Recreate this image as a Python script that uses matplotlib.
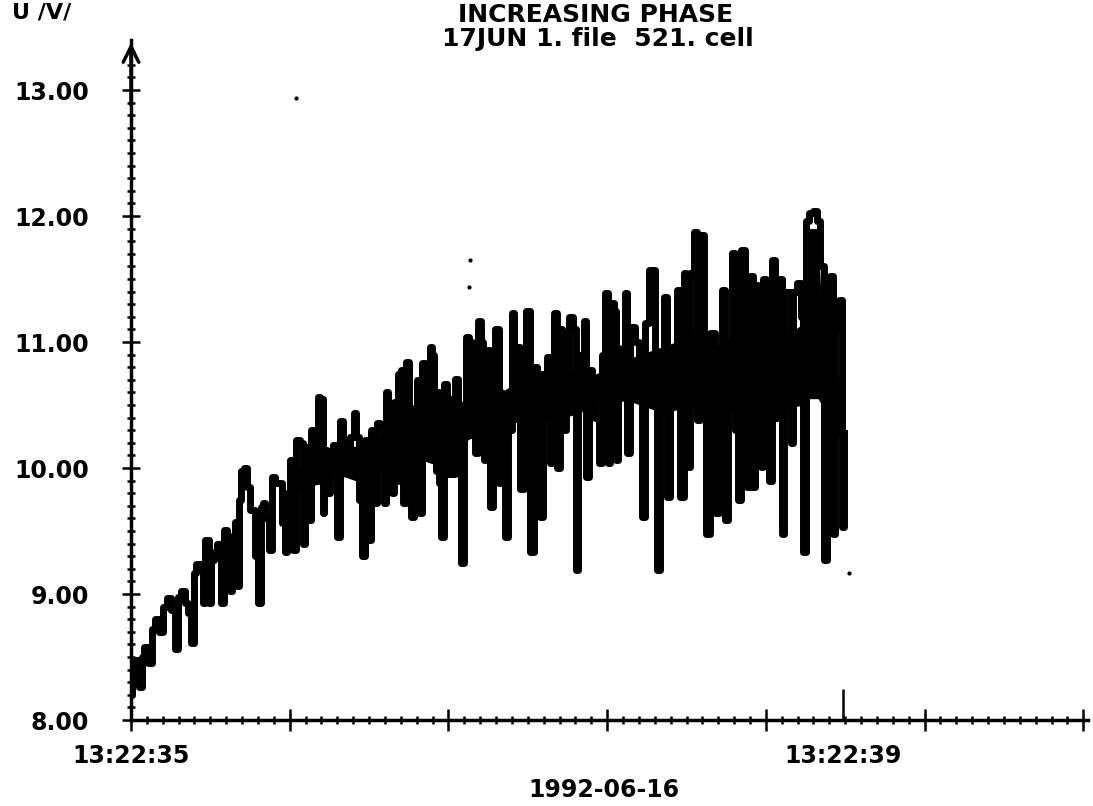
#Cell voltage, increasing phase
#17JUN 1. file 521, 1992-06-16

import numpy as np
import matplotlib
matplotlib.use('Agg')
import matplotlib.pyplot as plt
from matplotlib.ticker import MultipleLocator, FixedLocator, NullFormatter

#Time after 13:22:35 (s) and voltage (V)
t = [0.000, 0.011, 0.022, 0.034, 0.051, 0.067, 0.084, 0.107, 0.124, 0.146,
     0.163, 0.191, 0.219, 0.236, 0.258, 0.275, 0.292, 0.315, 0.331, 0.348,
     0.360, 0.371, 0.399, 0.410, 0.427, 0.444, 0.455, 0.472, 0.489, 0.517,
     0.528, 0.545, 0.562, 0.573, 0.590, 0.601, 0.612, 0.629, 0.646, 0.657,
     0.685, 0.708, 0.719, 0.736, 0.747, 0.764, 0.781, 0.798, 0.820,
     0.837, 0.854, 0.876, 0.882, 0.904, 0.921, 0.938, 0.961, 0.966, 0.989,
     1.006, 1.017, 1.034, 1.045, 1.056, 1.073, 1.079, 1.090, 1.107, 1.129,
     1.146, 1.163, 1.180, 1.202, 1.219, 1.242, 1.258, 1.275, 1.287, 1.303,
     1.326, 1.337, 1.354, 1.371, 1.388, 1.410, 1.427, 1.438, 1.455, 1.472,
     1.483, 1.494, 1.506, 1.522, 1.534, 1.551, 1.567, 1.579, 1.596, 1.612,
     1.624, 1.640, 1.663, 1.669, 1.685, 1.697, 1.708, 1.719, 1.725,
     1.736, 1.747, 1.764, 1.781, 1.798, 1.809, 1.831, 1.843, 1.860, 1.876,
     1.888, 1.905, 1.921, 1.944, 1.955, 1.972, 1.978, 1.989, 2.006, 2.028,
     2.039, 2.056, 2.073, 2.090, 2.112, 2.129, 2.146, 2.157, 2.174, 2.197,
     2.213, 2.230, 2.253, 2.270, 2.287, 2.303, 2.326, 2.343, 2.365, 2.382,
     2.399, 2.416, 2.427, 2.438, 2.449, 2.472, 2.489, 2.506, 2.517,
     2.534, 2.551, 2.562, 2.579, 2.596, 2.618, 2.635, 2.652, 2.674, 2.685,
     2.702, 2.719, 2.730, 2.747, 2.764, 2.781, 2.792, 2.815, 2.843, 2.860,
     2.876, 2.899, 2.916, 2.933, 2.949, 2.961, 2.983, 3.000, 3.017, 3.039,
     3.056, 3.073, 3.096, 3.112, 3.129, 3.152, 3.169, 3.185, 3.208, 3.225,
     3.236,
     3.270, 3.292, 3.309, 3.326, 3.343, 3.365, 3.382, 3.404, 3.421, 3.438,
     3.455, 3.466, 3.489, 3.500, 3.511, 3.528, 3.545, 3.556, 3.573, 3.596,
     3.607, 3.629, 3.646, 3.663, 3.674, 3.702, 3.713, 3.730, 3.753, 3.770,
     3.781, 3.798, 3.815, 3.843, 3.860, 3.882, 3.899, 3.916, 3.938, 3.944,
     3.966, 3.983, 4.000, 4.006]

u = [8.20, 8.45, 8.30, 8.48, 8.26, 8.50, 8.58, 8.45, 8.72, 8.80,
     8.70, 8.90, 8.97, 8.87, 8.56, 8.98, 9.02, 8.93, 8.85, 8.61,
     9.17, 9.24, 9.24, 8.93, 9.43, 8.93, 9.27, 9.33, 9.40, 8.93,
     9.51, 9.46, 9.02, 9.42, 9.57, 9.06, 9.75, 9.98, 10.00, 9.85,
     9.67, 9.30, 8.93, 9.69, 9.72, 9.60, 9.35, 9.93, 9.88,
     9.88, 9.56, 9.33, 9.80, 10.06, 9.35, 10.22, 10.20, 9.40, 10.17,
     9.59, 10.30, 10.28, 9.90, 10.56, 10.55, 9.64, 10.14, 9.80, 10.00,
     10.18, 9.45, 10.37, 10.20, 9.96, 10.25, 10.44, 10.25, 9.75, 9.30,
     10.22, 9.43, 10.30, 9.72, 10.36, 10.35, 9.72, 10.60, 10.50, 9.80,
     10.52, 9.90, 10.75, 10.78, 9.72, 10.84, 10.20, 9.61, 10.40, 10.70,
     9.64, 10.83, 10.82, 10.25, 10.96, 10.90, 10.30, 9.98, 10.60,
     9.88, 9.45, 10.67, 9.95, 10.55, 9.95, 10.71, 10.25, 9.25, 10.25,
     11.04, 11.00, 10.40, 10.12, 11.17, 11.00, 10.60, 10.06, 10.94, 9.69,
     10.80, 11.10, 9.88, 10.40, 9.45, 10.30, 11.23, 10.70, 10.96, 9.83,
     10.80, 11.25, 9.33, 10.80, 10.75, 9.61, 10.75, 10.88, 10.04, 11.23,
     10.00, 11.10, 11.05, 10.30, 10.65, 11.20, 11.10, 9.19, 10.90,
     10.50, 11.17, 9.93, 10.78, 10.60, 10.40, 10.04, 10.90, 11.39, 10.04,
     11.31, 11.25, 10.06, 10.80, 10.95, 11.39, 10.12, 11.12, 11.00, 10.80,
     9.61, 11.15, 11.57, 11.57, 10.65, 9.19, 10.60, 11.36, 9.77, 10.90,
     10.75, 11.41, 9.77, 11.55, 10.01, 11.55, 11.87, 10.38, 11.85, 10.70,
     9.48,
     11.07, 9.64, 10.50, 11.41, 9.59, 11.00, 11.71, 10.30, 9.75, 11.73,
     10.30, 9.85, 11.52, 9.85, 11.45, 11.40, 10.01, 11.50, 11.45, 9.90,
     11.65, 10.40, 11.50, 9.48, 11.40, 11.40, 10.20, 11.40, 11.47, 11.20,
     9.33, 11.96, 12.02, 12.04, 11.96, 11.60, 9.27, 11.10, 11.52, 9.48,
     11.10, 11.33, 9.53, 10.28]

#solid core of the noisy trace (lower / upper edge)
band_t = [0.9, 1.0, 1.1, 1.2, 1.3, 1.4, 1.5, 1.6, 1.7, 1.8, 1.9,
          2.0, 2.1, 2.2, 2.3, 2.4, 2.5, 2.6, 2.7, 2.8, 2.9,
          3.0, 3.1, 3.2, 3.3, 3.4, 3.5, 3.6, 3.7, 3.78, 3.80,
          3.86, 3.88, 3.9, 4.0]
band_lo = [9.80, 9.83, 9.93, 9.93, 9.88, 9.98, 10.08, 10.08, 10.03, 10.13, 10.23,
           10.28, 10.33, 10.38, 10.38, 10.38, 10.43, 10.48, 10.53, 10.53, 10.48,
           10.43, 10.48, 10.53, 10.43, 10.48, 10.43, 10.43, 10.48, 10.50, 10.55,
           10.55, 10.50, 10.43, 10.20]
band_hi = [9.92, 10.07, 10.12, 10.14, 10.20, 10.27, 10.40, 10.52, 10.47, 10.47, 10.57,
           10.67, 10.62, 10.72, 10.74, 10.77, 10.77, 10.74, 10.80, 10.87, 10.92,
           10.97, 11.02, 11.12, 10.97, 11.02, 10.97, 10.97, 11.07, 11.15, 11.90,
           11.90, 11.20, 11.15, 10.55]

#stray samples printed away from the trace
stray_t = [0.927, 1.905, 1.899, 4.034]
stray_u = [12.94, 11.65, 11.44, 9.17]

#axis settings
t_labels = ['13:22:35', '13:22:39']
t_label_pos = [0, 4]
u_ticks = [8, 9, 10, 11, 12, 13]
t_major = 0.8916           #major tick step on time axis (s)
t_end = 5.376              #end of time axis (s)
u_end = 13.397             #top of voltage axis

plt.rcParams['font.family'] = 'DejaVu Sans'
plt.rcParams['font.weight'] = 'bold'

fig = plt.figure(figsize=(10.93, 8.06), dpi=100)
ax = fig.add_axes([131/1093, 86/806, 957/1093, 680/806])

#trace, drawn as a sampled (stepped) signal
ax.fill_between(band_t, band_lo, band_hi, color='black', lw=0)
ax.plot(t, u, color='black', lw=5, drawstyle='steps-mid', solid_joinstyle='round')
ax.scatter(stray_t, stray_u, s=4, color='black')

ax.set_xlim(0, t_end)
ax.set_ylim(8, u_end)

for s in ['top', 'right']:
    ax.spines[s].set_visible(False)
for s in ['left', 'bottom']:
    ax.spines[s].set_linewidth(2.5)

#y axis ticks
ax.yaxis.set_major_locator(FixedLocator(u_ticks))
ax.yaxis.set_minor_locator(MultipleLocator(0.1))
ax.set_yticklabels(['%.2f' % v for v in u_ticks])
ax.tick_params(axis='y', which='major', direction='inout', length=13, width=1.8,
               labelsize=17, pad=24)
ax.tick_params(axis='y', which='minor', direction='inout', length=5.5, width=1.8)

#x axis ticks
ax.xaxis.set_major_locator(MultipleLocator(t_major))
ax.xaxis.set_minor_locator(MultipleLocator(t_major/10))
ax.xaxis.set_major_formatter(NullFormatter())
ax.tick_params(axis='x', which='major', direction='inout', length=16, width=1.8)
ax.tick_params(axis='x', which='minor', direction='inout', length=6, width=1.8)

#time labels with their own tall ticks
sec = ax.secondary_xaxis('bottom')
sec.set_xticks(t_label_pos)
sec.set_xticklabels(t_labels)
sec.spines['bottom'].set_visible(False)
sec.tick_params(direction='in', length=22, width=1.8, labelsize=17, pad=17)

#arrow on voltage axis
ax.annotate('', xy=(0, 1), xycoords='axes fraction', xytext=(0, 0.9),
            arrowprops=dict(arrowstyle='->', lw=2.5, mutation_scale=28, color='black'),
            annotation_clip=False)

#texts
fig.text(596/1093, 1-15/806, 'INCREASING PHASE', ha='center', va='center', fontsize=18)
fig.text(598/1093, 1-39/806, '17JUN 1. file  521. cell', ha='center', va='center', fontsize=18)
fig.text(12/1093, 1-13/806, 'U /V/', ha='left', va='center', fontsize=16)
fig.text(604/1093, 1-790/806, '1992-06-16', ha='center', va='center', fontsize=17)

plt.savefig('out.png', dpi=100)
